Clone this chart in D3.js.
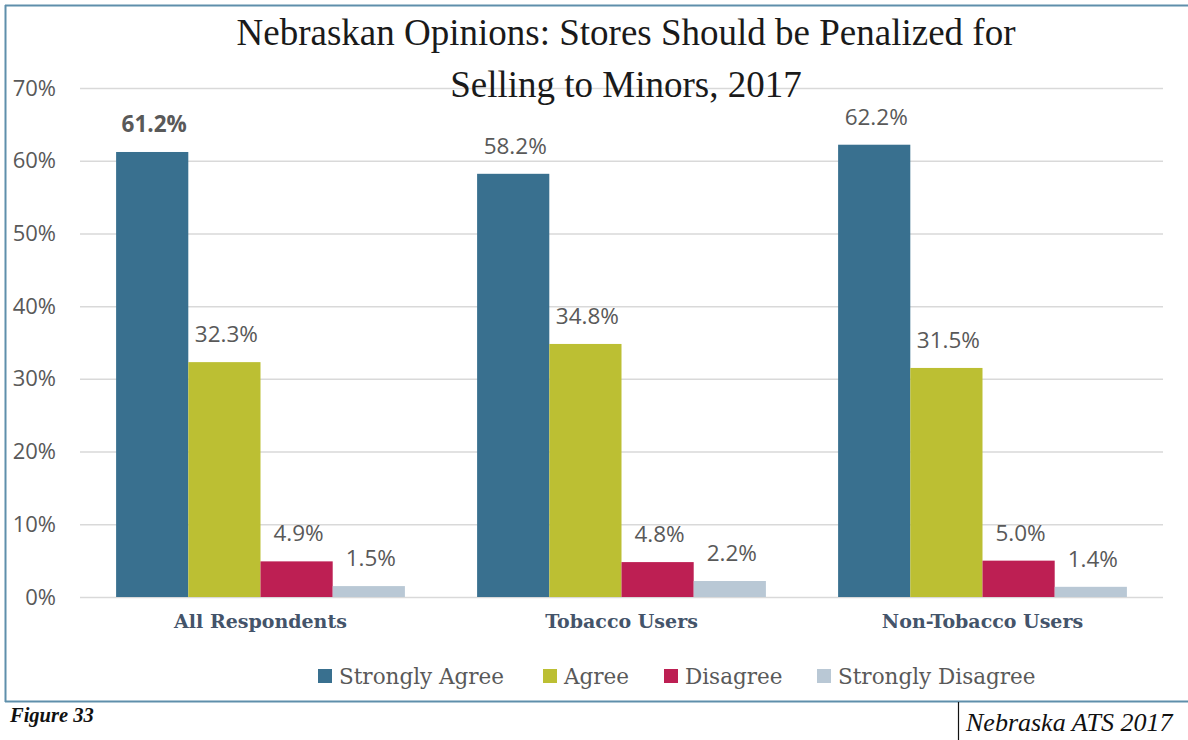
<!DOCTYPE html>
<html>
<head>
<meta charset="utf-8">
<script src="https://cdnjs.cloudflare.com/ajax/libs/d3/7.8.5/d3.min.js"></script>
<style>
  html, body { margin: 0; padding: 0; background: #fff; }
  svg { display: block; }
</style>
</head>
<body>
<svg id="chart" width="1188" height="740"></svg>
<script>
// Survey groups and response shares (%)
const categories = ["All Respondents", "Tobacco Users", "Non-Tobacco Users"];
const responses = ["Strongly Agree", "Agree", "Disagree", "Strongly Disagree"];
const stronglyAgree = [61.2, 58.2, 62.2];
const agree = [32.3, 34.8, 31.5];
const disagree = [4.9, 4.8, 5.0];
const stronglyDisagree = [1.5, 2.2, 1.4];
const yTicks = [0, 10, 20, 30, 40, 50, 60, 70];
const colors = ["#39708f", "#bcbf33", "#bd1f53", "#b9c8d5"];

const seriesValues = [stronglyAgree, agree, disagree, stronglyDisagree];

const svg = d3.select("#chart");
const frameColor = "#5f8fab";

// Outer frame: top, left and bottom rules
svg.append("line").attr("x1", 5).attr("x2", 1188).attr("y1", 5.5).attr("y2", 5.5)
  .attr("stroke", frameColor).attr("stroke-width", 2);
svg.append("line").attr("x1", 5.5).attr("x2", 5.5).attr("y1", 5).attr("y2", 702)
  .attr("stroke", frameColor).attr("stroke-width", 2);
svg.append("line").attr("x1", 5).attr("x2", 1188).attr("y1", 701.5).attr("y2", 701.5)
  .attr("stroke", frameColor).attr("stroke-width", 2);

const margin = { left: 80, right: 1163, top: 88, bottom: 597 };

const x0 = d3.scaleBand().domain(categories)
  .range([margin.left, margin.right]).paddingInner(0.2).paddingOuter(0.1);
const x1 = d3.scaleBand().domain(responses).range([0, x0.bandwidth()]);
const y = d3.scaleLinear().domain([0, 70]).range([margin.bottom, margin.top]);

// Gridlines and y axis labels
const yAxis = d3.axisLeft(y).tickValues(yTicks).tickFormat(d => d + "%")
  .tickSize(-(margin.right - margin.left)).tickPadding(24);
const gy = svg.append("g").attr("transform", `translate(${margin.left},0)`).call(yAxis);
gy.select(".domain").remove();
gy.selectAll(".tick line").attr("stroke", "#d9d9d9").attr("stroke-width", 1.5);
gy.selectAll(".tick text")
  .attr("fill", "#595959")
  .style("font-family", "'Open Sans', sans-serif")
  .style("font-size", "22px");

// Bars
const groups = svg.append("g").selectAll("g")
  .data(categories)
  .join("g")
  .attr("transform", d => `translate(${x0(d)},0)`);

groups.selectAll("rect")
  .data((d, i) => responses.map((r, j) => ({ r, j, v: seriesValues[j][i], cat: i })))
  .join("rect")
  .attr("x", d => x1(d.r))
  .attr("width", x1.bandwidth())
  .attr("y", d => y(d.v))
  .attr("height", d => y(0) - y(d.v))
  .attr("fill", d => colors[d.j]);

// Value labels
groups.selectAll("text.val")
  .data((d, i) => responses.map((r, j) => ({ r, j, v: seriesValues[j][i], cat: i })))
  .join("text")
  .attr("class", "val")
  .attr("x", d => x1(d.r) + x1.bandwidth() / 2 + 2)
  .attr("y", d => y(d.v) - 20)
  .attr("text-anchor", "middle")
  .attr("fill", "#595959")
  .style("font-family", "'Open Sans', sans-serif")
  .style("font-size", "22.5px")
  .style("font-weight", d => (d.cat === 0 && d.j === 0) ? "bold" : "normal")
  .text(d => d.v.toFixed(1) + "%");

// Category labels
svg.append("g").selectAll("text")
  .data(categories)
  .join("text")
  .attr("x", d => x0(d) + x0.bandwidth() / 2)
  .attr("y", 628)
  .attr("text-anchor", "middle")
  .attr("fill", "#44546a")
  .style("font-family", "'DejaVu Serif', serif")
  .style("font-weight", "bold")
  .style("font-size", "19px")
  .text(d => d);

// Title
const title = svg.append("text")
  .attr("text-anchor", "middle")
  .attr("fill", "#1a1a1a")
  .style("font-family", "'Liberation Serif', 'Times New Roman', serif")
  .style("font-size", "37px");
title.append("tspan").attr("x", 626).attr("y", 45).text("Nebraskan Opinions: Stores Should be Penalized for");
title.append("tspan").attr("x", 626).attr("y", 97).text("Selling to Minors, 2017");

// Legend
const legendX = [318, 543, 664, 817];
const legend = svg.append("g").selectAll("g")
  .data(responses)
  .join("g")
  .attr("transform", (d, i) => `translate(${legendX[i]},669)`);
legend.append("rect").attr("width", 14).attr("height", 14).attr("fill", (d, i) => colors[i]);
legend.append("text")
  .attr("x", 21).attr("y", 15)
  .attr("fill", "#595959")
  .style("font-family", "'DejaVu Serif', serif")
  .style("font-size", "21.5px")
  .text(d => d);

// Footer notes
svg.append("text")
  .attr("x", 10).attr("y", 722)
  .attr("fill", "#111")
  .style("font-family", "'Liberation Serif', serif")
  .style("font-weight", "bold")
  .style("font-style", "italic")
  .style("font-size", "20.5px")
  .text("Figure 33");

svg.append("line").attr("x1", 958.5).attr("x2", 958.5).attr("y1", 702).attr("y2", 740)
  .attr("stroke", "#111").attr("stroke-width", 1.2);
svg.append("text")
  .attr("x", 966).attr("y", 731)
  .attr("fill", "#111")
  .style("font-family", "'Liberation Serif', serif")
  .style("font-style", "italic")
  .style("font-size", "26px")
  .text("Nebraska ATS 2017");
</script>
</body>
</html>
